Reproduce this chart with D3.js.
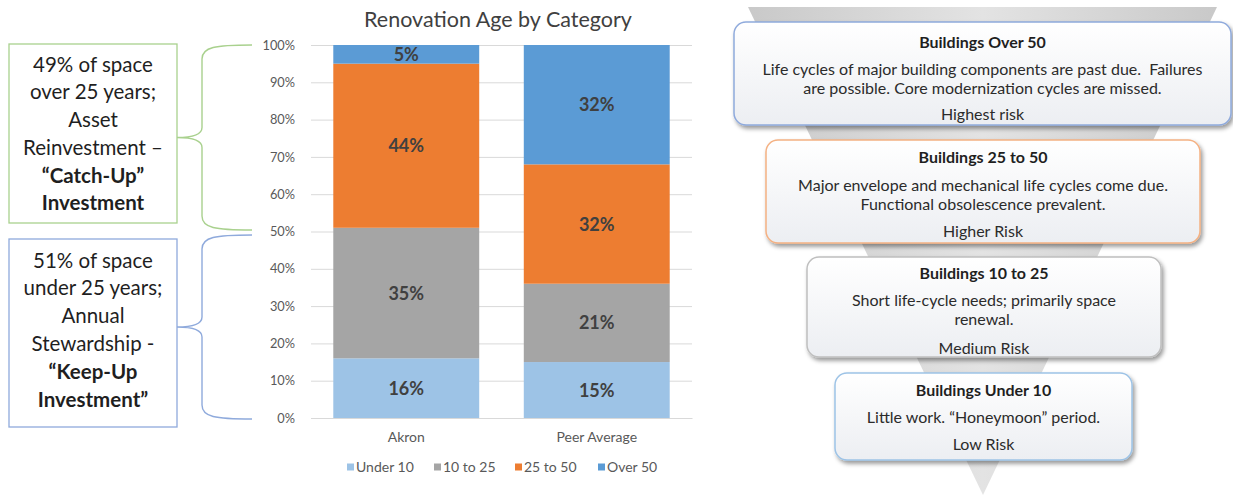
<!DOCTYPE html>
<html>
<head>
<meta charset="utf-8">
<script src="https://cdn.jsdelivr.net/npm/d3@7"></script>
<style>
  html, body { margin: 0; padding: 0; background: #fff; }
  svg { display: block; font-family: Lato, "Open Sans", sans-serif; }
</style>
</head>
<body>
<svg id="chart" width="1233" height="497"></svg>
<script>
// Stacked shares of building space by renovation age
const categories = ["Akron", "Peer Average"];
const seriesNames = ["Under 10", "10 to 25", "25 to 50", "Over 50"];
const under10 = [16, 15];
const tenTo25 = [35, 21];
const twentyFiveTo50 = [44, 32];
const over50 = [5, 32];
const yTicks = [0, 10, 20, 30, 40, 50, 60, 70, 80, 90, 100];
const seriesColors = ["#9dc3e6", "#a5a5a5", "#ed7d31", "#5b9bd5"];

// Side notes and risk tiers
const catchUpLines = [["49% of space", false], ["over 25 years;", false], ["Asset", false],
  ["Reinvestment –", false], ["“Catch-Up”", true], ["Investment", true]];
const keepUpLines = [["51% of space", false], ["under 25 years;", false], ["Annual", false],
  ["Stewardship -", false], ["“Keep-Up", true], ["Investment”", true]];
const tierTitles = ["Buildings Over 50", "Buildings 25 to 50", "Buildings 10 to 25", "Buildings Under 10"];
const tierBodies = [
  ["Life cycles of major building components are past due.  Failures", "are possible. Core modernization cycles are missed."],
  ["Major envelope and mechanical life cycles come due.", "Functional obsolescence prevalent."],
  ["Short life-cycle needs; primarily space", "renewal."],
  ["Little work. “Honeymoon” period."]
];
const tierRisks = ["Highest risk", "Higher Risk", "Medium Risk", "Low Risk"];
const tierStrokes = ["#8faadc", "#f4b183", "#bfbfbf", "#9dc3e6"];

const svg = d3.select("#chart");
const defs = svg.append("defs");

// ---------- stacked bar chart ----------
const plot = { left: 311, right: 692, top: 45, bottom: 418 };
const x = d3.scaleBand().domain(categories).range([plot.left, plot.right]).paddingInner(0.234).paddingOuter(0.117);
const y = d3.scaleLinear().domain([0, 100]).range([plot.bottom, plot.top]);

const rows = categories.map((c, i) => ({
  category: c,
  "Under 10": under10[i], "10 to 25": tenTo25[i], "25 to 50": twentyFiveTo50[i], "Over 50": over50[i]
}));
const stacked = d3.stack().keys(seriesNames)(rows);

svg.append("text")
  .attr("x", 498).attr("y", 27)
  .attr("text-anchor", "middle")
  .attr("font-size", 21.5).attr("fill", "#404040")
  .text("Renovation Age by Category");

const yAxis = svg.append("g")
  .attr("transform", `translate(${plot.left},0)`)
  .call(d3.axisLeft(y).tickValues(yTicks).tickSize(-(plot.right - plot.left)).tickPadding(16)
    .tickFormat(d => d + "%"));
yAxis.select(".domain").remove();
yAxis.selectAll(".tick line").attr("stroke", "#d9d9d9").attr("stroke-width", 1);
yAxis.selectAll(".tick text").attr("fill", "#595959").attr("font-size", 12.8)
  .attr("font-family", "Lato, sans-serif");

const layers = svg.append("g").selectAll("g")
  .data(stacked).join("g")
  .attr("fill", (d, i) => seriesColors[i]);
layers.selectAll("rect")
  .data(d => d.map(p => ({ p, key: d.key })))
  .join("rect")
  .attr("x", d => x(d.p.data.category))
  .attr("width", x.bandwidth())
  .attr("y", d => y(d.p[1]))
  .attr("height", d => y(d.p[0]) - y(d.p[1]));
layers.selectAll("text")
  .data(d => d.map(p => ({ p, key: d.key })))
  .join("text")
  .attr("x", d => x(d.p.data.category) + x.bandwidth() / 2)
  .attr("y", d => (y(d.p[0]) + y(d.p[1])) / 2)
  .attr("dy", "0.36em")
  .attr("text-anchor", "middle")
  .attr("font-size", 18).attr("font-weight", "bold").attr("fill", "#404040")
  .text(d => (d.p[1] - d.p[0]) + "%");

const xAxis = svg.append("g")
  .attr("transform", `translate(0,${plot.bottom})`)
  .call(d3.axisBottom(x).tickSize(0).tickPadding(14));
xAxis.select(".domain").attr("stroke", "#d9d9d9");
xAxis.selectAll(".tick text").attr("fill", "#595959").attr("font-size", 14)
  .attr("font-family", "Lato, sans-serif");

// legend
const legendX = [347, 434, 515, 598];
const legend = svg.append("g").selectAll("g").data(seriesNames).join("g")
  .attr("transform", (d, i) => `translate(${legendX[i]},467)`);
legend.append("rect").attr("x", 0).attr("y", -3.5).attr("width", 7).attr("height", 7)
  .attr("fill", (d, i) => seriesColors[i]);
legend.append("text").attr("x", 9).attr("dy", "0.36em")
  .attr("font-size", 14).attr("fill", "#595959").text(d => d);

// ---------- note boxes with braces ----------
function noteBox(top, bottom, stroke, lines, lineYs) {
  svg.append("rect").attr("x", 9).attr("y", top).attr("width", 168).attr("height", bottom - top)
    .attr("fill", "#fff").attr("stroke", stroke).attr("stroke-width", 1.3);
  svg.append("g").selectAll("text").data(lines).join("text")
    .attr("x", 93).attr("y", (d, i) => lineYs[i]).attr("dy", "0.36em")
    .attr("text-anchor", "middle").attr("font-size", 20.5)
    .attr("font-weight", d => d[1] ? "bold" : "normal")
    .attr("fill", "#1f1f1f")
    .text(d => d[0]);
}
function brace(top, bottom, stroke) {
  const mid = (top + bottom) / 2, xr = 252, xv = 202, xt = 177;
  const p = d3.path();
  p.moveTo(xr, top);
  p.bezierCurveTo(215, top, xv, top + 2, xv, top + 14);
  p.lineTo(xv, mid - 10);
  p.bezierCurveTo(xv, mid - 2, 190, mid, xt, mid);
  p.bezierCurveTo(190, mid, xv, mid + 2, xv, mid + 10);
  p.lineTo(xv, bottom - 14);
  p.bezierCurveTo(xv, bottom - 2, 215, bottom, xr, bottom);
  svg.append("path").attr("d", p.toString()).attr("fill", "none")
    .attr("stroke", stroke).attr("stroke-width", 1.4);
}
noteBox(44, 223, "#a9d18e", catchUpLines, [65, 92, 120, 148, 176, 203]);
brace(45, 230, "#a9d18e");
noteBox(239, 427, "#8faadc", keepUpLines, [261, 288, 316, 344, 372, 400]);
brace(235, 419, "#8faadc");

// ---------- risk funnel ----------
const funnelGrad = defs.append("linearGradient").attr("id", "funnelGrad")
  .attr("x1", 0).attr("x2", 1).attr("y1", 0).attr("y2", 0);
funnelGrad.append("stop").attr("offset", 0).attr("stop-color", "#c9c9c9");
funnelGrad.append("stop").attr("offset", 0.5).attr("stop-color", "#e3e3e3");
funnelGrad.append("stop").attr("offset", 1).attr("stop-color", "#c9c9c9");
svg.append("path")
  .attr("d", "M748,7 L1217,7 L983,495 Z")
  .attr("fill", "url(#funnelGrad)");

const boxGrad = defs.append("linearGradient").attr("id", "boxGrad")
  .attr("x1", 0).attr("x2", 0).attr("y1", 0).attr("y2", 1);
boxGrad.append("stop").attr("offset", 0).attr("stop-color", "#ffffff");
boxGrad.append("stop").attr("offset", 1).attr("stop-color", "#eceef2");
const shadow = defs.append("filter").attr("id", "shadow")
  .attr("x", "-5%").attr("y", "-10%").attr("width", "115%").attr("height", "130%");
shadow.append("feDropShadow").attr("dx", 2).attr("dy", 3).attr("stdDeviation", 2)
  .attr("flood-color", "#000").attr("flood-opacity", 0.4);

const tierBoxes = [
  { x0: 734, x1: 1231, y0: 22, y1: 125, titleY: 42, bodyY: [69, 88.5], riskY: 114 },
  { x0: 766, x1: 1200, y0: 140, y1: 243, titleY: 157, bodyY: [185, 204.5], riskY: 231 },
  { x0: 807, x1: 1161, y0: 257, y1: 357, titleY: 273, bodyY: [300, 319.5], riskY: 348 },
  { x0: 835, x1: 1132, y0: 373, y1: 460, titleY: 390, bodyY: [417], riskY: 444 }
];
tierBoxes.forEach((b, i) => {
  const g = svg.append("g");
  g.append("rect").attr("x", b.x0).attr("y", b.y0)
    .attr("width", b.x1 - b.x0).attr("height", b.y1 - b.y0)
    .attr("rx", 12).attr("ry", 12)
    .attr("fill", "url(#boxGrad)").attr("stroke", tierStrokes[i]).attr("stroke-width", 1.5)
    .attr("filter", "url(#shadow)");
  const cx = (b.x0 + b.x1) / 2;
  g.append("text").attr("x", cx).attr("y", b.titleY).attr("dy", "0.36em")
    .attr("text-anchor", "middle").attr("font-size", 16).attr("font-weight", "bold")
    .attr("fill", "#1f1f1f").text(tierTitles[i]);
  g.selectAll("text.body").data(tierBodies[i]).join("text").attr("class", "body")
    .attr("x", cx).attr("y", (d, j) => b.bodyY[j]).attr("dy", "0.36em")
    .attr("text-anchor", "middle").attr("font-size", 16)
    .attr("fill", "#2b2b2b").style("white-space", "pre")
    .text(d => d);
  g.append("text").attr("x", cx).attr("y", b.riskY).attr("dy", "0.36em")
    .attr("text-anchor", "middle").attr("font-size", 16)
    .attr("fill", "#2b2b2b").text(tierRisks[i]);
});
</script>
</body>
</html>
